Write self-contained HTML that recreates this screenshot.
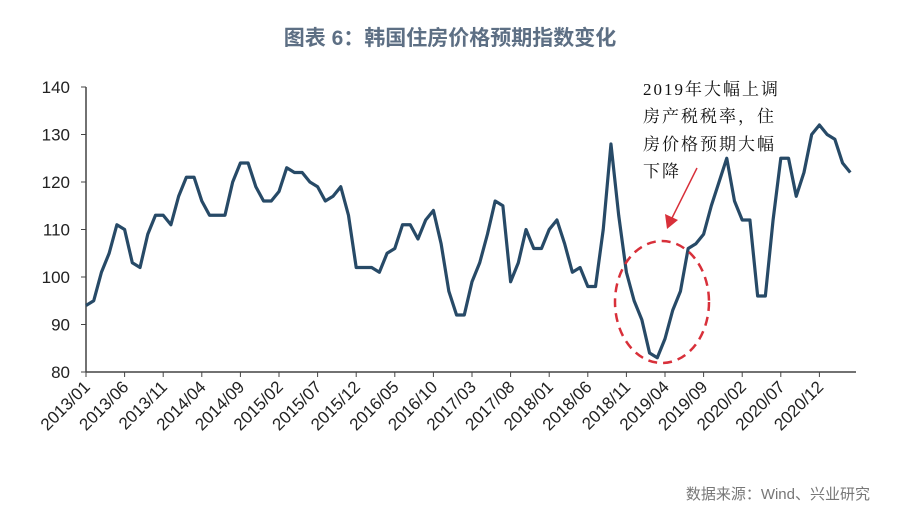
<!DOCTYPE html>
<html><head><meta charset="utf-8"><style>
body{margin:0;background:#fff;}
svg{display:block;font-family:"Liberation Sans","Noto Sans CJK SC",sans-serif;}
</style></head><body>
<svg width="900" height="523" viewBox="0 0 900 523">
<text x="450" y="45" text-anchor="middle" font-size="21" font-weight="bold" fill="#5d6f84">图表 6：韩国住房价格预期指数变化</text>
<g id="axes"></g>
<g id="plot"></g>
<ellipse cx="662" cy="302" rx="47" ry="61" fill="none" stroke="#d8303a" stroke-width="2.5" stroke-dasharray="9,6"/>
<line x1="697" y1="168" x2="671" y2="220" stroke="#d8303a" stroke-width="1.5"/>
<polygon points="667,229 665,214 678,220" fill="#d8303a"/>
<g font-family="'Liberation Serif','Noto Serif CJK SC',serif" font-size="17" fill="#111" letter-spacing="2">
<text x="643" y="95">2019年大幅上调</text>
<text x="643" y="122">房产税税率，住</text>
<text x="643" y="150">房价格预期大幅</text>
<text x="643" y="177">下降</text>
</g>
<text x="870" y="499" text-anchor="end" font-size="15" fill="#777">数据来源：Wind、兴业研究</text>
<script>
const values=[94,95,101,105,111,110,103,102,109,113,113,111,117,121,121,116,113,113,113,120,124,124,119,116,116,118,123,122,122,120,119,116,117,119,113,102,102,102,101,105,106,111,111,108,112,114,107,97,92,92,99,103,109,116,115,99,103,110,106,106,110,112,107,101,102,98,98,110,128,113,101,95,91,84,83,87,93,97,106,107,109,115,120,125,116,112,112,96,96,112,125,125,117,122,130,132,130,129,124,122];
const yTicks=[80,90,100,110,120,130,140];
const xLabels=["2013/01","2013/06","2013/11","2014/04","2014/09","2015/02","2015/07","2015/12","2016/05","2016/10","2017/03","2017/08","2018/01","2018/06","2018/11","2019/04","2019/09","2020/02","2020/07","2020/12"];
const NS="http://www.w3.org/2000/svg";
const x0=86,dx=7.72,yTop=87,yBot=372,ymin=80,ymax=140;
const X=i=>x0+i*dx;
const Y=v=>yBot-(v-ymin)/(ymax-ymin)*(yBot-yTop);
const axes=document.getElementById('axes'),plot=document.getElementById('plot');
function mk(t,a,p){const e=document.createElementNS(NS,t);for(const k in a)e.setAttribute(k,a[k]);p.appendChild(e);return e;}
let l=mk('line',{x1:x0,y1:yTop,x2:x0,y2:yBot,stroke:'#444','stroke-width':1.5},axes);


l=mk('line',{x1:x0,y1:yBot,x2:856,y2:yBot,stroke:'#444','stroke-width':1.5},axes);


yTicks.forEach(v=>{
 mk('line',{x1:x0-5,y1:Y(v),x2:x0,y2:Y(v),stroke:'#444','stroke-width':1},axes);
 const t=mk('text',{x:70,y:Y(v)+6,'text-anchor':'end','font-size':17,fill:'#222'},axes);
 t.textContent=v;
 
 
});
xLabels.forEach((s,k)=>{
 const x=X(k*5);
 mk('line',{x1:x,y1:yBot,x2:x,y2:yBot+5,stroke:'#444','stroke-width':1},axes);
 const t=mk('text',{x:x+5,y:yBot+16,'text-anchor':'end','font-size':17,fill:'#222',transform:`rotate(-45 ${x+5} ${yBot+16})`},axes);
 t.textContent=s;
 
 
});
const p=mk('polyline',{points:values.map((v,i)=>X(i)+','+Y(v)).join(' '),fill:'none',stroke:'#274a67','stroke-width':3.2,'stroke-linejoin':'round'},plot);


</script>
</svg>
</body></html>
